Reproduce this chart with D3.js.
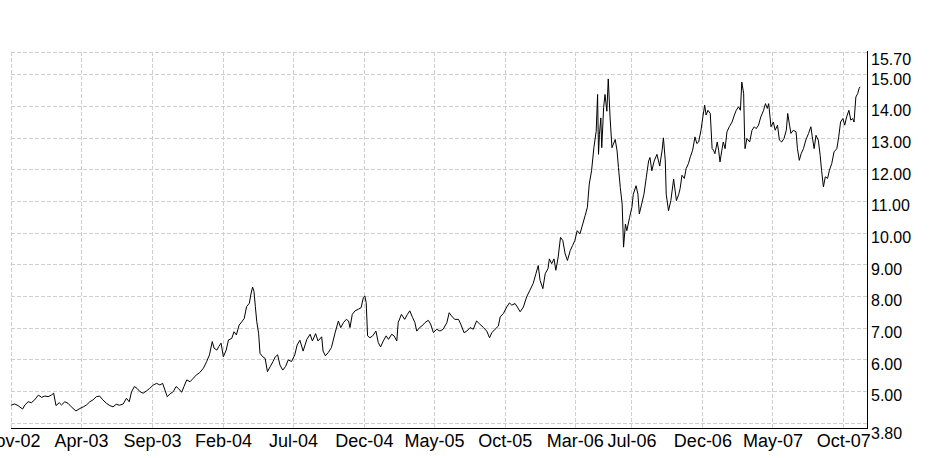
<!DOCTYPE html>
<html>
<head>
<meta charset="utf-8">
<script src="https://cdn.jsdelivr.net/npm/d3@7/dist/d3.min.js"></script>
<style>
  html, body { margin: 0; padding: 0; background: #fff; }
  svg { display: block; }
  text { font-family: "Liberation Sans", Arial, sans-serif; fill: #000; }
</style>
</head>
<body>
<svg id="chart" width="952" height="458"></svg>
<script>
// ---- data ----
const dates = [
"2002-11-01","2002-11-09","2002-11-16","2002-11-26","2002-12-01","2002-12-08","2002-12-15","2002-12-22","2002-12-30",
"2003-01-06","2003-01-13","2003-01-20","2003-01-27","2003-02-01","2003-02-06","2003-02-13","2003-02-18","2003-02-25",
"2003-03-04","2003-03-11","2003-03-21","2003-03-30","2003-04-06","2003-04-13","2003-04-20","2003-04-27","2003-05-04",
"2003-05-11","2003-05-18","2003-05-26","2003-06-02","2003-06-09","2003-06-16","2003-06-23","2003-07-01","2003-07-08",
"2003-07-14","2003-07-19","2003-07-25","2003-07-31","2003-08-06","2003-08-13","2003-08-20","2003-08-27","2003-09-04",
"2003-09-11","2003-09-18","2003-09-24","2003-09-29","2003-10-04","2003-10-10","2003-10-17","2003-10-23","2003-10-28",
"2003-11-04","2003-11-09","2003-11-15","2003-11-22","2003-11-29","2003-12-06","2003-12-13","2003-12-21","2003-12-28",
"2004-01-03","2004-01-09","2004-01-13","2004-01-19","2004-01-23","2004-01-28","2004-02-02","2004-02-08","2004-02-13",
"2004-02-20","2004-02-25","2004-03-01","2004-03-07","2004-03-13","2004-03-18","2004-03-23","2004-03-29","2004-04-01",
"2004-04-05","2004-04-08","2004-04-11","2004-04-14","2004-04-18","2004-04-21","2004-04-27","2004-05-02","2004-05-07",
"2004-05-13","2004-05-19","2004-05-24","2004-05-29","2004-06-03","2004-06-09","2004-06-15","2004-06-21","2004-06-28",
"2004-07-05","2004-07-10","2004-07-16","2004-07-23","2004-07-31","2004-08-07","2004-08-12","2004-08-19","2004-08-24",
"2004-09-01","2004-09-04","2004-09-09","2004-09-15","2004-09-22","2004-09-30","2004-10-07","2004-10-12","2004-10-18",
"2004-10-24","2004-10-29","2004-11-01","2004-11-06","2004-11-12","2004-11-19","2004-11-25","2004-11-30","2004-12-03",
"2004-12-06","2004-12-09","2004-12-14","2004-12-20","2004-12-27","2005-01-01","2005-01-06","2005-01-12","2005-01-18",
"2005-01-23","2005-01-30","2005-02-04","2005-02-10","2005-02-13","2005-02-20","2005-02-27","2005-03-05","2005-03-10",
"2005-03-16","2005-03-21","2005-03-25","2005-03-31","2005-04-05","2005-04-12","2005-04-19","2005-04-24","2005-04-30",
"2005-05-07","2005-05-14","2005-05-21","2005-05-29","2005-06-03","2005-06-08","2005-06-15","2005-06-23","2005-06-28",
"2005-07-05","2005-07-11","2005-07-18","2005-07-25","2005-08-01","2005-08-08","2005-08-16","2005-08-23","2005-08-29",
"2005-09-03","2005-09-10","2005-09-17","2005-09-21","2005-09-28","2005-10-05","2005-10-11","2005-10-16","2005-10-23",
"2005-10-28","2005-11-03","2005-11-10","2005-11-17","2005-11-24","2005-12-01","2005-12-07","2005-12-12","2005-12-16",
"2005-12-22","2005-12-27","2006-01-02","2006-01-05","2006-01-10","2006-01-15","2006-01-19","2006-01-24","2006-01-29",
"2006-02-03","2006-02-08","2006-02-13","2006-02-19","2006-02-24","2006-03-01","2006-03-06","2006-03-12","2006-03-18",
"2006-03-23","2006-03-28","2006-04-01","2006-04-06","2006-04-11","2006-04-16","2006-04-19","2006-04-21","2006-04-23",
"2006-04-26","2006-04-28","2006-05-02","2006-05-05","2006-05-09","2006-05-12","2006-05-16","2006-05-20","2006-05-23",
"2006-05-27","2006-05-31","2006-06-03","2006-06-07","2006-06-11","2006-06-14","2006-06-18","2006-06-21","2006-06-27",
"2006-07-02","2006-07-05","2006-07-11","2006-07-15","2006-07-18","2006-07-23","2006-07-28","2006-08-02","2006-08-07",
"2006-08-10","2006-08-14","2006-08-19","2006-08-25","2006-08-31","2006-09-05","2006-09-08","2006-09-12","2006-09-14",
"2006-09-19","2006-09-24","2006-09-30","2006-10-06","2006-10-11","2006-10-14","2006-10-18","2006-10-23","2006-10-27",
"2006-11-01","2006-11-05","2006-11-10","2006-11-15","2006-11-19","2006-11-23","2006-11-28","2006-12-02","2006-12-06",
"2006-12-09","2006-12-13","2006-12-18","2006-12-22","2006-12-25","2006-12-28","2007-01-02","2007-01-05","2007-01-08",
"2007-01-12","2007-01-15","2007-01-19","2007-01-23","2007-01-28","2007-02-03","2007-02-08","2007-02-12","2007-02-17",
"2007-02-21","2007-02-24","2007-02-28","2007-03-02","2007-03-03","2007-03-07","2007-03-13","2007-03-18","2007-03-23",
"2007-03-27","2007-04-01","2007-04-06","2007-04-12","2007-04-16","2007-04-20","2007-04-23","2007-04-28","2007-05-03",
"2007-05-07","2007-05-12","2007-05-16","2007-05-21","2007-05-26","2007-05-31","2007-06-03","2007-06-07","2007-06-10",
"2007-06-15","2007-06-21","2007-06-24","2007-06-28","2007-07-02","2007-07-07","2007-07-12","2007-07-18","2007-07-23",
"2007-07-26","2007-07-30","2007-08-03","2007-08-08","2007-08-12","2007-08-15","2007-08-19","2007-08-23","2007-08-28",
"2007-09-01","2007-09-06","2007-09-11","2007-09-17","2007-09-21","2007-09-25","2007-09-30","2007-10-04","2007-10-08",
"2007-10-13","2007-10-17","2007-10-21","2007-10-24","2007-10-28","2007-11-01","2007-11-04","2007-11-06"
];
const values = [
4.55,4.59,4.54,4.43,4.56,4.66,4.63,4.72,4.87,
4.80,4.84,4.82,4.87,4.93,4.54,4.63,4.56,4.66,
4.61,4.50,4.37,4.45,4.50,4.56,4.66,4.72,4.82,
4.84,4.72,4.61,4.54,4.50,4.58,4.55,4.59,4.77,
4.66,4.98,5.14,5.08,4.98,4.93,5.00,5.08,5.19,
5.24,5.19,5.24,5.03,4.82,4.91,4.98,5.14,5.08,
4.96,5.14,5.35,5.29,5.40,5.51,5.58,5.72,5.93,
6.14,6.56,6.35,6.29,6.40,6.51,6.08,6.29,6.61,
6.66,6.87,6.77,7.08,7.19,7.29,7.66,7.77,8.03,
8.28,8.14,7.66,7.19,6.82,6.19,6.08,6.03,5.61,
5.77,5.93,6.08,6.14,5.82,5.66,5.77,5.98,5.93,
6.14,6.45,6.60,6.26,6.63,6.79,6.58,6.81,6.58,
6.71,6.26,6.11,6.21,6.37,6.84,7.21,7.00,7.16,
7.26,7.21,7.00,7.42,7.53,7.58,7.63,7.95,8.00,
7.79,6.74,6.68,6.74,6.89,6.53,6.39,6.58,6.74,
6.63,6.79,6.74,6.58,7.16,7.42,7.26,7.42,7.53,
7.32,7.16,6.89,7.00,7.05,7.16,7.23,7.11,6.84,
6.95,6.89,6.95,7.16,7.47,7.37,7.26,7.26,7.11,
6.84,6.89,7.00,6.95,7.21,7.11,7.00,6.89,6.68,
6.84,6.95,7.05,7.34,7.45,7.65,7.78,7.71,7.76,
7.65,7.50,7.65,7.97,8.18,8.39,8.70,8.96,8.49,
8.23,8.70,8.86,9.17,9.02,9.17,8.81,9.23,9.85,
9.75,9.33,9.12,9.43,9.59,9.75,10.06,9.96,10.27,
10.53,10.80,11.53,11.95,12.68,13.20,14.36,12.47,13.10,
13.62,12.68,13.94,14.36,13.83,14.85,13.62,12.68,12.79,
12.94,12.58,12.05,11.42,10.90,9.54,10.27,10.06,10.48,
10.80,11.21,11.48,11.21,10.59,10.90,11.21,11.74,12.26,
12.37,11.95,12.26,12.47,12.10,12.58,12.99,12.26,11.21,
10.69,11.01,11.69,11.01,11.21,11.39,11.81,11.71,12.02,
12.18,12.39,12.60,13.02,12.81,12.86,13.23,13.65,14.02,
13.71,13.86,13.76,12.65,12.60,12.49,12.86,12.60,12.23,
12.60,12.86,12.65,13.18,13.34,13.49,13.71,13.86,13.97,
13.86,14.75,14.39,13.02,12.65,12.97,12.86,13.23,13.34,
13.28,13.39,13.65,13.86,14.07,13.92,14.07,13.34,13.49,
13.23,13.39,12.92,12.86,12.97,13.23,13.76,13.39,13.13,
13.23,13.18,12.65,12.28,12.49,12.65,12.92,13.13,13.34,
13.02,12.65,13.07,12.92,12.44,11.97,11.44,11.76,11.71,
11.97,12.18,12.55,12.65,13.02,13.49,13.60,13.39,13.65,
13.86,13.55,13.60,13.49,14.28,14.39,14.55,14.60
];
const xTickDates = ["2002-11-01","2003-04-01","2003-09-01","2004-02-01","2004-07-01","2004-12-01",
  "2005-05-01","2005-10-01","2006-03-01","2006-07-01","2006-12-01","2007-05-01","2007-10-01"];
const yGridValues = [4,5,6,7,8,9,10,11,12,13,14,15,15.7];
const yLabelValues = [3.8,5,6,7,8,9,10,11,12,13,14,15,15.7];
const xDomain = ["2002-11-01","2007-11-21"];
const yDomain = [3.8, 15.7];

// ---- drawing ----
(function () {
  const parse = d3.timeParse("%Y-%m-%d");
  const n = Math.min(dates.length, values.length);
  const data = d3.range(n).map(i => ({ date: parse(dates[i]), value: values[i] }));

  const plotLeft = 11, plotRight = 867, plotTop = 52, plotBottom = 429;
  const svg = d3.select("#chart");

  const x = d3.scaleTime().domain(xDomain.map(parse)).range([plotLeft, plotRight]);
  const y = d3.scaleLinear().domain(yDomain).range([plotBottom, plotTop]);

  const gridColor = "#cfcfcf";
  const g = svg.append("g");

  // horizontal grid
  g.selectAll("line.hg").data(yGridValues).join("line")
    .attr("class", "hg")
    .attr("x1", plotLeft).attr("x2", plotRight)
    .attr("y1", d => Math.round(y(d)) + 0.5).attr("y2", d => Math.round(y(d)) + 0.5)
    .attr("stroke", gridColor).attr("stroke-dasharray", "4,2").attr("stroke-width", 1);

  // vertical grid
  g.selectAll("line.vg").data(xTickDates.map(parse)).join("line")
    .attr("class", "vg")
    .attr("x1", d => Math.round(x(d)) + 0.5).attr("x2", d => Math.round(x(d)) + 0.5)
    .attr("y1", plotTop).attr("y2", plotBottom)
    .attr("stroke", gridColor).attr("stroke-dasharray", "4,2").attr("stroke-width", 1);

  // price line
  const line = d3.line().x(d => x(d.date)).y(d => y(d.value));
  svg.append("path").datum(data)
    .attr("d", line)
    .attr("fill", "none").attr("stroke", "#000").attr("stroke-width", 1);

  // axis frame lines (right and bottom)
  svg.append("line").attr("x1", plotRight + 0.5).attr("x2", plotRight + 0.5)
    .attr("y1", plotTop - 1).attr("y2", plotBottom).attr("stroke", "#000");
  svg.append("line").attr("x1", plotLeft).attr("x2", plotRight + 1)
    .attr("y1", plotBottom - 0.5).attr("y2", plotBottom - 0.5).attr("stroke", "#000");

  // right axis labels
  const yAxis = d3.axisRight(y).tickValues(yLabelValues).tickFormat(d3.format(".2f"))
    .tickSize(0).tickPadding(4);
  const ya = svg.append("g").attr("transform", `translate(${plotRight},0)`).call(yAxis);
  ya.select(".domain").remove();
  ya.selectAll("text")
    .attr("dy", d => d === 15.7 ? 12 : (d === 3.8 ? 9 : 10))
    .style("font-size", "16px").style("font-family", '"Liberation Sans", Arial, sans-serif')
    .attr("fill", "#000");

  // bottom axis labels
  const xAxis = d3.axisBottom(x).tickValues(xTickDates.map(parse))
    .tickFormat(d3.timeFormat("%b-%y")).tickSize(0).tickPadding(0);
  const xa = svg.append("g").attr("transform", `translate(0,${plotBottom})`).call(xAxis);
  xa.select(".domain").remove();
  xa.selectAll("text")
    .attr("y", 18).attr("dy", 0)
    .style("font-size", "18px").style("font-family", '"Liberation Sans", Arial, sans-serif')
    .attr("fill", "#000");
})();
</script>
</body>
</html>
